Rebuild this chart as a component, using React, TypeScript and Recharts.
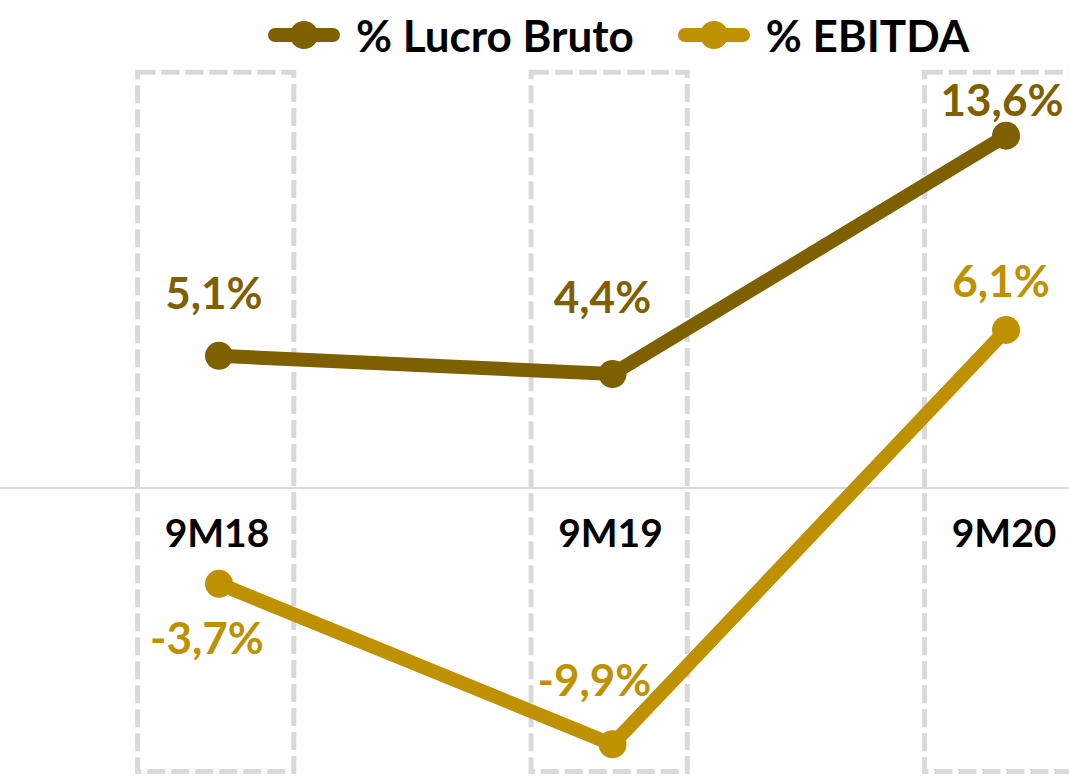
import React from 'react';
import { LineChart, Line, XAxis, YAxis, ReferenceArea, ReferenceLine, LabelList } from 'recharts';

const categories = ['9M18', '9M19', '9M20'];
const lucroBruto = [5.1, 4.4, 13.6];
const ebitda = [-3.7, -9.9, 6.1];
const seriesNames = ['% Lucro Bruto', '% EBITDA'];

const COLORS = { lucro: '#7F6000', ebitda: '#BF9000', box: '#D9D9D9', zero: '#D9D9D9' };
const FONT = 'Lato, "Open Sans", sans-serif';
const CAT_FONT_SIZE = 39;
const LABEL_FONT_SIZE = 44;

// label placement (pixels, relative to point)
const lucroLabelOffset = [{ dx: -5, dy: -64 }, { dx: -10, dy: -78 }, { dx: -4, dy: -37 }];
const ebitdaLabelOffset = [{ dx: -12, dy: 53 }, { dx: -18, dy: -65 }, { dx: -5, dy: -50 }];
const BOX_TOP = 16.05;
const BOX_BOTTOM = -10.95;
const BOX_LEFT = -0.207;
const BOX_RIGHT = 0.19;

const data = categories.map((c, i) => ({ x: i, cat: c, lucro: lucroBruto[i], ebitda: ebitda[i], zero: 0 }));

const fmt = (v: number) => v.toFixed(1).replace('.', ',') + '%';

const makeLabel = (offsets: { dx: number; dy: number }[], color: string) => (props: any) => {
  const { x, y, value, index } = props;
  const o = offsets[index] || { dx: 0, dy: 0 };
  return (
    <text x={x + o.dx} y={y + o.dy} textAnchor="middle" dominantBaseline="central"
      fill={color} fontFamily={FONT} fontWeight={700} fontSize={LABEL_FONT_SIZE}>
      {fmt(value)}
    </text>
  );
};

const catLabel = (props: any) => {
  const { x, y, index } = props;
  return (
    <text x={x - 2} y={y + 44} textAnchor="middle" dominantBaseline="central"
      fill="#000" fontFamily={FONT} fontWeight={700} fontSize={CAT_FONT_SIZE}>
      {categories[index]}
    </text>
  );
};

const LegendMarker = ({ color }: { color: string }) => (
  <svg width={72} height={32} style={{ display: 'block' }}>
    <line x1={7} y1={16} x2={65} y2={16} stroke={color} strokeWidth={14} strokeLinecap="round" />
    <circle cx={36} cy={16} r={14} fill={color} />
  </svg>
);

export default function App() {
  const legendColors = [COLORS.lucro, COLORS.ebitda];
  return (
    <div style={{ position: 'absolute', left: 0, top: 0, width: 1069, height: 777, background: '#fff', overflow: 'hidden' }}>
      <LineChart width={1069} height={777} data={data} margin={{ top: 0, right: 0, bottom: 0, left: 0 }}>
        <XAxis type="number" dataKey="x" domain={[-0.5565, 2.16]} hide allowDataOverflow />
        <YAxis type="number" domain={[-11.16, 18.84]} hide allowDataOverflow />
        <ReferenceLine y={0} stroke={COLORS.zero} strokeWidth={2} />
        <Line dataKey="zero" stroke="none" dot={false} activeDot={false} isAnimationActive={false}>
          <LabelList dataKey="zero" content={catLabel} />
        </Line>
        <Line dataKey="lucro" stroke={COLORS.lucro} strokeWidth={14} isAnimationActive={false}
          dot={{ r: 14, fill: COLORS.lucro, stroke: 'none' }} activeDot={false}>
          <LabelList dataKey="lucro" content={makeLabel(lucroLabelOffset, COLORS.lucro)} />
        </Line>
        <Line dataKey="ebitda" stroke={COLORS.ebitda} strokeWidth={14} isAnimationActive={false}
          dot={{ r: 14, fill: COLORS.ebitda, stroke: 'none' }} activeDot={false}>
          <LabelList dataKey="ebitda" content={makeLabel(ebitdaLabelOffset, COLORS.ebitda)} />
        </Line>
        {categories.map((c, i) => (
          <ReferenceArea key={c} x1={i + BOX_LEFT} x2={i + BOX_RIGHT} y1={BOX_BOTTOM} y2={BOX_TOP}
            fill="none" fillOpacity={0} stroke={COLORS.box} strokeWidth={5} strokeDasharray="18 6"
            ifOverflow="visible" />
        ))}
      </LineChart>
      <div style={{ position: 'absolute', left: 268, top: 17, display: 'flex', alignItems: 'center',
        fontFamily: FONT, fontWeight: 700, fontSize: 44, color: '#000', whiteSpace: 'nowrap' }}>
        {seriesNames.map((n, i) => (
          <div key={n} style={{ display: 'flex', alignItems: 'center', marginRight: 44 }}>
            <LegendMarker color={legendColors[i]} />
            <span style={{ marginLeft: 16, lineHeight: '36px' }}>{n}</span>
          </div>
        ))}
      </div>
    </div>
  );
}
